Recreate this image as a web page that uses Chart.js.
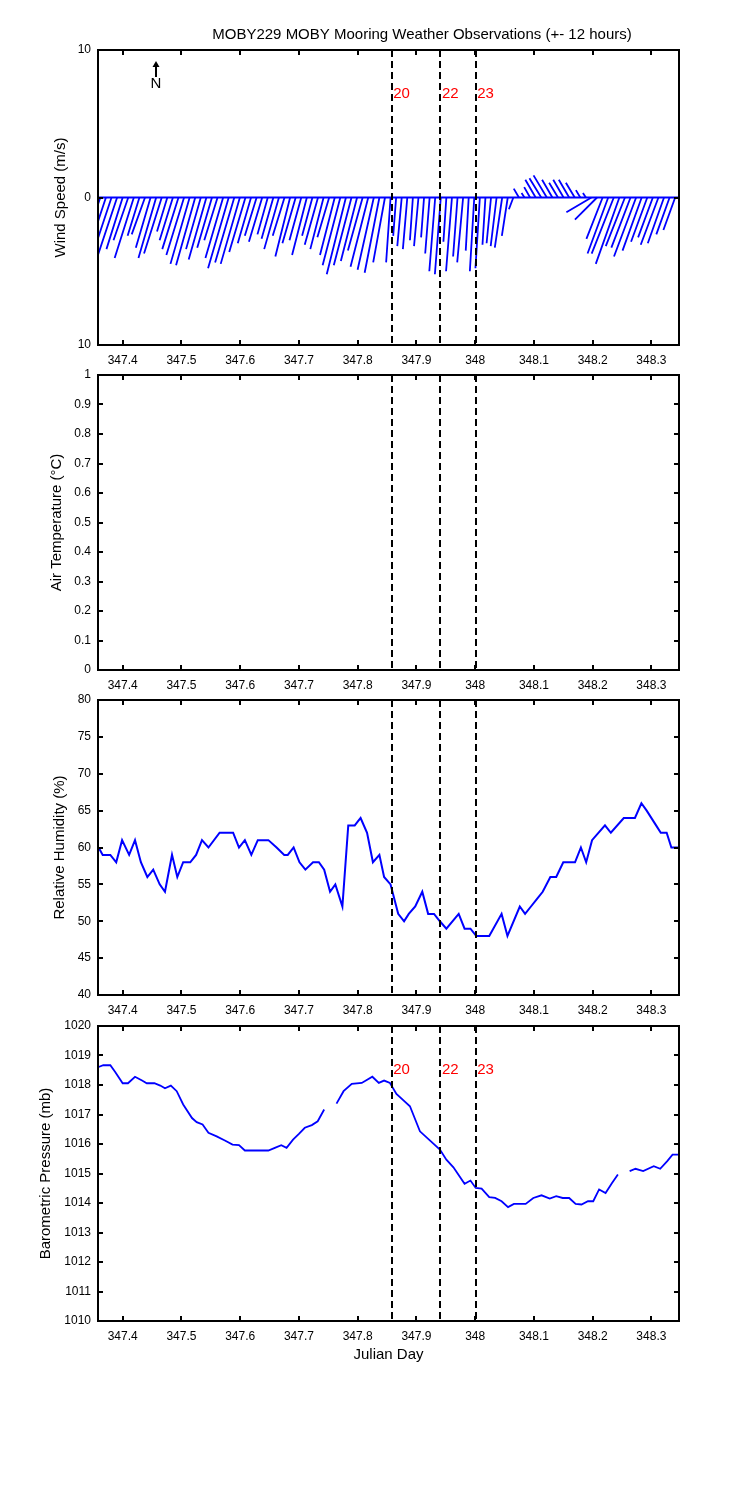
<!DOCTYPE html>
<html lang="en">
<head>
    <meta charset="UTF-8">
    <title>MOBY229 MOBY Mooring Weather Observations</title>
    <script src="https://cdn.jsdelivr.net/npm/chart.js@4.4.1/dist/chart.umd.min.js"></script>
    <style>
        body {
            margin: 0;
            background-color: #fff;
        }

        #page {
            position: relative;
            width: 750px;
            height: 1500px;
        }

        #page canvas {
            position: absolute;
            left: 0;
        }
    </style>
</head>

<body>
    <div id="page">
        <canvas id="windChart"></canvas>
        <canvas id="tempChart"></canvas>
        <canvas id="rhChart"></canvas>
        <canvas id="presChart"></canvas>
    </div>

    <script>
        // ---- data ----
        const xMin = 347.358;
        const xMax = 348.347;
        const xTicks = [347.4, 347.5, 347.6, 347.7, 347.8, 347.9, 348.0, 348.1, 348.2, 348.3];

        // station events (dashed lines)
        const eventDays = [347.858, 347.941, 348.001];
        const eventLabels = ['20', '22', '23'];

        // wind sticks, one every ~14 min, u east / v north in m/s
        const windStartDay = 347.362;
        const windStepDay = 0.0095;
        const windU = [
            -1.1, -0.8, -1.3, -1.6, -1.1, -1.0, -1.3, -0.8, -0.9, -1.0,
            -1.2, -1.2, -0.7, -0.9, -1.1, -1.2, -1.3, -1.3, -1.0, -1.2,
            -1.0, -0.9, -1.2, -1.4, -1.3, -1.3, -1.1, -0.9, -0.8, -0.9,
            -0.7, -0.8, -1.0, -0.8, -1.0, -0.9, -0.8, -1.0, -0.7, -0.9,
            -0.9, -0.8, -1.0, -1.2, -1.3, -1.2, -1.1, -1.0, -1.2, -1.1,
            -1.0, -0.8, -0.3, -0.2, -0.3, -0.3, -0.2, -0.3, -0.2, -0.3,
            -0.4, -0.4, -0.2, -0.4, -0.3, -0.4, -0.2, -0.3, -0.3, -0.2,
            -0.3, -0.4, -0.5, -0.4, -0.3, -0.35, -0.2, -0.4, -0.7, -0.8,
            -0.9, -0.7, -0.6, -0.7, -0.7, -0.6, -0.3, -0.2, -1.7, -1.5,
            -1.1, -1.4, -1.5, -1.6, -1.3, -1.3, -1.5, -1.3, -1.1, -1.0,
            -1.2, -1.1, -0.9, -0.8
        ];
        const windV = [
            -3.2, -2.4, -3.9, -4.8, -3.5, -2.9, -4.1, -2.6, -2.5, -3.4,
            -4.1, -3.8, -2.3, -2.9, -3.5, -3.9, -4.5, -4.6, -3.5, -4.2,
            -3.4, -2.9, -4.1, -4.8, -4.4, -4.5, -3.7, -3.1, -2.6, -3.0,
            -2.5, -2.8, -3.5, -2.6, -4.0, -3.1, -2.9, -3.9, -2.6, -3.2,
            -3.5, -2.7, -3.9, -4.6, -5.2, -4.6, -4.3, -3.6, -4.7, -4.9,
            -5.1, -4.4, -4.4, -2.6, -3.3, -3.5, -2.9, -3.3, -2.7, -3.8,
            -5.0, -5.2, -3.0, -5.0, -4.0, -4.4, -3.6, -5.0, -4.8, -3.2,
            -3.1, -3.3, -3.4, -2.6, -0.8, 0.6, 0.3, 0.7, 1.2, 1.3,
            1.5, 1.2, 1.0, 1.2, 1.2, 1.0, 0.5, 0.3, -1.0, -1.5,
            -2.8, -3.8, -3.8, -4.5, -3.3, -3.4, -4.0, -3.6, -3.0, -2.7,
            -3.2, -3.1, -2.5, -2.2
        ];
        // days of x per m/s so sticks keep true direction on screen
        const stickDaysPerMs = 0.0251;

        const windTicks = [-10, 0, 10];
        const tempTicks = [0, 0.1, 0.2, 0.3, 0.4, 0.5, 0.6, 0.7, 0.8, 0.9, 1];
        const rhTicks = [40, 45, 50, 55, 60, 65, 70, 75, 80];
        const presTicks = [1010, 1011, 1012, 1013, 1014, 1015, 1016, 1017, 1018, 1019, 1020];

        const rhDays = [
            347.359, 347.366, 347.379, 347.389, 347.399, 347.411, 347.421, 347.431, 347.442, 347.452,
            347.463, 347.472, 347.484, 347.493, 347.503, 347.515, 347.525, 347.535, 347.546, 347.565,
            347.588, 347.598, 347.608, 347.619, 347.630, 347.648, 347.662, 347.675, 347.681, 347.691,
            347.701, 347.711, 347.724, 347.734, 347.743, 347.753, 347.762, 347.774, 347.784, 347.795,
            347.805, 347.816, 347.826, 347.837, 347.845, 347.856, 347.869, 347.879, 347.887, 347.898,
            347.910, 347.920, 347.930, 347.940, 347.951, 347.972, 347.982, 347.992, 348.002, 348.024,
            348.045, 348.055, 348.076, 348.085, 348.095, 348.105, 348.115, 348.128, 348.138, 348.150,
            348.170, 348.180, 348.189, 348.199, 348.221, 348.231, 348.253, 348.272, 348.283, 348.292,
            348.308, 348.316, 348.326, 348.334, 348.347
        ];
        const rhValues = [
            60, 59, 59, 58, 61, 59, 61, 58, 56, 57,
            55, 54, 59, 56, 58, 58, 59, 61, 60, 62,
            62, 60, 61, 59, 61, 61, 60, 59, 59, 60,
            58, 57, 58, 58, 57, 54, 55, 52, 63, 63,
            64, 62, 58, 59, 56, 55, 51, 50, 51, 52,
            54, 51, 51, 50, 49, 51, 49, 49, 48, 48,
            51, 48, 52, 51, 52, 53, 54, 56, 56, 58,
            58, 60, 58, 61, 63, 62, 64, 64, 66, 65,
            63, 62, 62, 60, 60
        ];

        // null = missing record
        const presDays = [
            347.359, 347.367, 347.379, 347.387, 347.400, 347.409, 347.421, 347.433, 347.441, 347.454,
            347.464, 347.472, 347.482, 347.492, 347.503, 347.518, 347.526, 347.536, 347.546, 347.560,
            347.574, 347.587, 347.598, 347.608, 347.648, 347.659, 347.670, 347.679, 347.690, 347.700,
            347.710, 347.722, 347.732, 347.743, 347.754, 347.764, 347.776, 347.790, 347.807, 347.825,
            347.836, 347.845, 347.855, 347.866, 347.878, 347.889, 347.906, 347.940, 347.951, 347.963,
            347.982, 347.992, 348.001, 348.011, 348.024, 348.034, 348.045, 348.056, 348.066, 348.086,
            348.099, 348.113, 348.127, 348.138, 348.149, 348.160, 348.171, 348.181, 348.192, 348.201,
            348.211, 348.222, 348.233, 348.243, 348.253, 348.263, 348.273, 348.286, 348.304, 348.315,
            348.327, 348.336, 348.346
        ];
        const presValues = [
            1018.61, 1018.67, 1018.67, 1018.45, 1018.06, 1018.06, 1018.28, 1018.15, 1018.06, 1018.06,
            1017.98, 1017.89, 1017.98, 1017.79, 1017.34, 1016.88, 1016.74, 1016.66, 1016.38, 1016.26,
            1016.12, 1015.98, 1015.96, 1015.78, 1015.78, 1015.87, 1015.96, 1015.87, 1016.15, 1016.34,
            1016.55, 1016.64, 1016.77, 1017.17, null, 1017.37, 1017.79, 1018.04, 1018.07, 1018.28,
            1018.07, 1018.15, 1018.07, 1017.70, 1017.48, 1017.28, 1016.43, 1015.81, 1015.47, 1015.21,
            1014.65, 1014.76, 1014.51, 1014.49, 1014.20, 1014.17, 1014.06, 1013.86, 1013.97, 1013.97,
            1014.17, 1014.26, 1014.15, 1014.23, 1014.17, 1014.17, 1013.97, 1013.95, 1014.06, 1014.06,
            1014.46, 1014.34, 1014.68, 1014.97, null, 1015.08, 1015.16, 1015.08, 1015.25, 1015.16,
            1015.42, 1015.64, 1015.64
        ];

        // ---- drawing ----
        const FONT = '"Liberation Sans", Arial, Helvetica, sans-serif';
        const BLUE = '#0000ff';
        const PLOT_H = 295;

        // inward MATLAB style ticks, box, dashed event lines
        const axesFrame = {
            id: 'axesFrame',
            afterDatasetsDraw(chart, args, opts) {
                const { ctx, chartArea: a, scales: { x, y } } = chart;
                ctx.save();
                ctx.strokeStyle = '#000';
                ctx.lineWidth = 2;

                ctx.setLineDash([7, 4]);
                eventDays.forEach(d => {
                    const px = Math.round(x.getPixelForValue(d));
                    ctx.beginPath();
                    ctx.moveTo(px, a.top);
                    ctx.lineTo(px, a.bottom);
                    ctx.stroke();
                });
                ctx.setLineDash([]);

                const len = 5;
                ctx.beginPath();
                x.ticks.forEach(t => {
                    const px = Math.round(x.getPixelForValue(t.value));
                    ctx.moveTo(px, a.top); ctx.lineTo(px, a.top + len);
                    ctx.moveTo(px, a.bottom); ctx.lineTo(px, a.bottom - len);
                });
                y.ticks.forEach(t => {
                    const py = Math.round(y.getPixelForValue(t.value));
                    ctx.moveTo(a.left, py); ctx.lineTo(a.left + len, py);
                    ctx.moveTo(a.right, py); ctx.lineTo(a.right - len, py);
                });
                ctx.stroke();
                ctx.strokeRect(a.left, a.top, a.right - a.left, a.bottom - a.top);

                if (opts.eventText) {
                    ctx.fillStyle = '#ff0000';
                    ctx.font = '15px ' + FONT;
                    ctx.textBaseline = 'top';
                    ctx.textAlign = 'left';
                    eventDays.forEach((d, i) => {
                        ctx.fillText(eventLabels[i], x.getPixelForValue(d) + 1.5, a.top + 36);
                    });
                }

                if (opts.northArrow) {
                    const ax = a.left + 58, ay = a.top + 11;
                    ctx.fillStyle = '#000';
                    ctx.beginPath();
                    ctx.moveTo(ax, ay + 16); ctx.lineTo(ax, ay + 4);
                    ctx.stroke();
                    ctx.beginPath();
                    ctx.moveTo(ax, ay); ctx.lineTo(ax - 3.5, ay + 6); ctx.lineTo(ax + 3.5, ay + 6);
                    ctx.closePath();
                    ctx.fill();
                    ctx.font = '15px ' + FONT;
                    ctx.textAlign = 'center';
                    ctx.textBaseline = 'middle';
                    ctx.fillText('N', ax, ay + 23);
                }

                if (opts.title) {
                    ctx.fillStyle = '#000';
                    ctx.font = '15px ' + FONT;
                    ctx.textAlign = 'center';
                    ctx.textBaseline = 'middle';
                    ctx.fillText(opts.title, 422, 35);
                }
                ctx.restore();
            }
        };

        function makePanel(id, cfg) {
            const canvas = document.getElementById(id);
            const xAxisH = cfg.xTitle ? 60 : 30;
            canvas.width = 750;
            canvas.height = cfg.padTop + PLOT_H + xAxisH;
            canvas.style.top = (cfg.plotTop - cfg.padTop) + 'px';

            return new Chart(canvas.getContext('2d'), {
                type: 'line',
                data: { datasets: cfg.datasets },
                options: {
                    responsive: false,
                    animation: false,
                    events: [],
                    layout: { padding: { top: cfg.padTop, right: 71, bottom: 0, left: 0 } },
                    plugins: {
                        legend: { display: false },
                        tooltip: { enabled: false },
                        axesFrame: { eventText: !!cfg.eventText, northArrow: !!cfg.northArrow, title: cfg.title || '' }
                    },
                    scales: {
                        x: {
                            type: 'linear',
                            min: xMin,
                            max: xMax,
                            afterBuildTicks: s => { s.ticks = xTicks.map(v => ({ value: v })); },
                            afterFit: s => { s.height = xAxisH; },
                            grid: { display: false, drawTicks: false },
                            border: { display: false },
                            ticks: {
                                color: '#000',
                                font: { family: FONT, size: 12 },
                                padding: 8,
                                maxRotation: 0,
                                autoSkip: false,
                                callback: v => String(Number(v.toFixed(1)))
                            },
                            title: {
                                display: !!cfg.xTitle,
                                text: cfg.xTitle || '',
                                color: '#000',
                                font: { family: FONT, size: 15 },
                                padding: { top: 0, bottom: 17 }
                            }
                        },
                        y: {
                            type: 'linear',
                            min: cfg.yTicks[0],
                            max: cfg.yTicks[cfg.yTicks.length - 1],
                            afterBuildTicks: s => { s.ticks = cfg.yTicks.map(v => ({ value: v })); },
                            afterFit: s => { s.width = 98; },
                            grid: { display: false, drawTicks: false },
                            border: { display: false },
                            ticks: {
                                color: '#000',
                                font: { family: FONT, size: 12 },
                                padding: 7,
                                autoSkip: false,
                                callback: cfg.yFormat || (v => String(Number(v.toFixed(1))))
                            },
                            title: {
                                display: true,
                                text: cfg.yTitle,
                                color: '#000',
                                font: { family: FONT, size: 15 },
                                padding: { top: cfg.yTitleX - 9, bottom: 0 }
                            }
                        }
                    }
                },
                plugins: [axesFrame]
            });
        }

        // wind stick segments: base on the zero line, tip at (u, v)
        const stickPoints = [];
        windU.forEach((u, i) => {
            const day = windStartDay + i * windStepDay;
            stickPoints.push({ x: day, y: 0 });
            stickPoints.push({ x: day + u * stickDaysPerMs, y: windV[i] });
            stickPoints.push({ x: day, y: null });
        });

        const lineStyle = {
            borderColor: BLUE,
            borderWidth: 2,
            pointRadius: 0,
            tension: 0,
            spanGaps: false
        };

        makePanel('windChart', {
            plotTop: 50, padTop: 50,
            yTicks: windTicks,
            yFormat: v => String(Math.abs(v)),
            yTitle: 'Wind Speed (m/s)', yTitleX: 61,
            eventText: true, northArrow: true,
            title: 'MOBY229 MOBY Mooring Weather Observations (+- 12 hours)',
            datasets: [
                Object.assign({ data: [{ x: xMin, y: 0 }, { x: xMax, y: 0 }] }, lineStyle),
                Object.assign({ data: stickPoints }, lineStyle, { borderWidth: 1.8 })
            ]
        });

        makePanel('tempChart', {
            plotTop: 375, padTop: 20,
            yTicks: tempTicks,
            yTitle: 'Air Temperature (\u00B0C)', yTitleX: 57,
            datasets: [Object.assign({ data: [] }, lineStyle)]
        });

        makePanel('rhChart', {
            plotTop: 700, padTop: 20,
            yTicks: rhTicks,
            yTitle: 'Relative Humidity (%)', yTitleX: 60,
            datasets: [Object.assign({ data: rhDays.map((d, i) => ({ x: d, y: rhValues[i] })) }, lineStyle)]
        });

        makePanel('presChart', {
            plotTop: 1026, padTop: 20,
            yTicks: presTicks,
            yTitle: 'Barometric Pressure (mb)', yTitleX: 46,
            xTitle: 'Julian Day',
            eventText: true,
            datasets: [Object.assign({ data: presDays.map((d, i) => ({ x: d, y: presValues[i] })) }, lineStyle, { borderWidth: 1.8 })]
        });
    </script>
</body>

</html>
